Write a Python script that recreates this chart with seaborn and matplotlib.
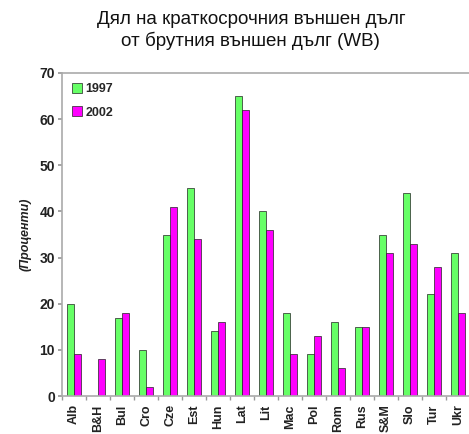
import matplotlib
matplotlib.use("Agg")
import matplotlib.pyplot as plt
import seaborn as sns
import pandas as pd
import numpy as np

categories = ["Alb", "B&H", "Bul", "Cro", "Cze", "Est", "Hun", "Lat", "Lit",
              "Mac", "Pol", "Rom", "Rus", "S&M", "Slo", "Tur", "Ukr"]
values_1997 = [20, np.nan, 17, 10, 35, 45, 14, 65, 40, 18, 9, 16, 15, 35, 44, 22, 31]
values_2002 = [9, 8, 18, 2, 41, 34, 16, 62, 36, 9, 13, 6, 15, 31, 33, 28, 18]
series_names = ["1997", "2002"]
yticks = [0, 10, 20, 30, 40, 50, 60, 70]

df = pd.DataFrame({
    "cat": categories * 2,
    "year": [series_names[0]] * len(categories) + [series_names[1]] * len(categories),
    "val": values_1997 + values_2002,
})

sns.set_theme(style="white")
plt.rcParams['font.family'] = ['Liberation Sans', 'DejaVu Sans']

fig = plt.figure(figsize=(4.69, 4.34), dpi=100)
ax = fig.add_axes([62/469, 1 - 396/434, 408/469, (396 - 73)/434])

sns.barplot(data=df, x="cat", y="val", hue="year", order=categories,
            hue_order=series_names, palette=["#66FF66", "#FF00FF"],
            width=0.56, edgecolor="#222222", linewidth=0.5, ax=ax, saturation=1)

ax.set_ylim(0, 70)
ax.set_xlim(-0.5, len(categories) - 0.5)
ax.set_yticks(yticks)
ax.set_yticklabels([str(t) for t in yticks], fontsize=10, fontweight="bold", color="#222222")
ax.set_xticks(range(len(categories)))
ax.set_xticklabels(categories, rotation=90, fontsize=9, fontweight="bold", color="#222222")
ax.tick_params(axis="x", which="major", length=0, pad=6)
ax.set_xticks(np.arange(-0.5, len(categories), 1.0), minor=True)
ax.tick_params(axis="x", which="minor", length=3, color="#999999", direction="out", bottom=True)
ax.tick_params(axis="y", length=3, color="#999999", direction="out", left=True, pad=2)

for s in ["left", "top", "bottom"]:
    ax.spines[s].set_color("#aaaaaa")
    ax.spines[s].set_linewidth(1.2)
ax.spines["right"].set_visible(False)

ax.set_xlabel("")
ax.set_ylabel("(Проценти)", fontsize=9, fontstyle="italic", fontweight="bold", labelpad=6, color="#222222")

leg = ax.legend(loc="upper left", frameon=False, fontsize=9, handlelength=0.8,
                handleheight=0.8, borderaxespad=0.4, labelspacing=0.9, handletextpad=0.3)
for t in leg.get_texts():
    t.set_fontweight("bold")

fig.text(0.535, 0.975, "Дял на краткосрочния външен дълг\nот брутния външен дълг (WB)",
         ha="center", va="top", fontsize=13.5,
         color="#111111", linespacing=1.3)

fig.savefig("out.png", dpi=100)
